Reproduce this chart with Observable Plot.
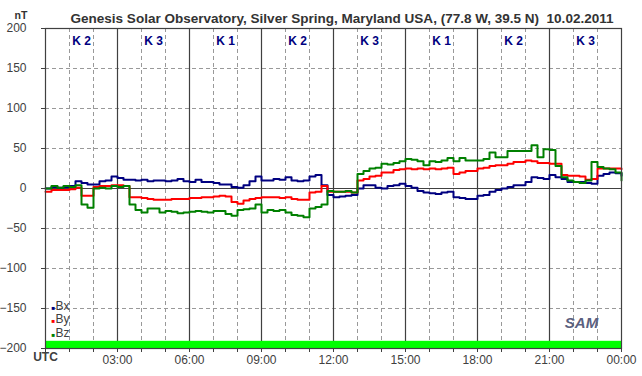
<!DOCTYPE html>
<html><head><meta charset="utf-8">
<script src="https://cdn.jsdelivr.net/npm/d3@7"></script>
<script src="https://cdn.jsdelivr.net/npm/@observablehq/plot@0.6"></script>
<style>body{margin:0;background:#fff;} #chart svg{display:block;}</style>
</head><body><div id="chart"></div>
<script>
// 15-minute samples, UTC hours 0..24
const hours = d3.range(0, 24.001, 0.25);
const bx = [0,2,1,2,3,9,7,5,5,9,10,15,13,11,11,10,11,9,10,10,9,10,12,9,
  8,11,8,8,7,5,5,2,1,4,9,15,10,10,12,11,14,10,9,10,15,17,4,-8,
  -11,-10,-9,-8,0,4,4,1,0,3,4,6,3,1,-3,-5,-6,-7,-5,-4,-11,-12,-13,-13,
  -9,-8,-4,-2,0,2,4,4,8,14,13,12,17,14,12,8,8,8,7,6,16,18,20,19,16];
const by = [-4,-2,-2,-2,-1,1,-9,-9,2,3,3,4,4,3,-11,-11,-12,-13,-14,-14,-14,-13,-13,-13,
  -12,-12,-11,-11,-10,-9,-10,-17,-19,-15,-13,-12,-11,-11,-11,-12,-11,-13,-14,-14,-5,-4,3,-4,
  -4,-4,-4,-5,10,12,15,16,20,20,23,24,25,24,25,24,25,24,25,26,18,20,22,22,
  25,26,28,29,29,31,33,33,35,34,32,32,31,31,17,16,16,15,11,12,25,25,25,25,24];
const bz = [0,3,1,3,2,4,-20,-24,0,1,0,3,2,3,-20,-27,-30,-25,-25,-30,-28,-29,-31,-30,
  -29,-28,-29,-30,-28,-28,-32,-34,-27,-26,-25,-20,-30,-27,-28,-27,-30,-33,-34,-36,-25,-23,-20,-3,
  -4,-4,-3,-5,18,22,25,26,31,30,32,34,37,36,34,29,34,33,35,38,34,38,35,35,
  35,37,45,39,39,47,47,47,47,54,39,49,48,28,14,10,8,7,10,33,27,25,24,20,10];
const seriesNames = ["Bx", "By", "Bz"];
const seriesColors = ["#000080", "#ff0000", "#008000"];
const kLabels = ["K 2", "K 3", "K 1", "K 2", "K 3", "K 1", "K 2", "K 3"];
const kCenters = [1.5, 4.5, 7.5, 10.5, 13.5, 16.5, 19.5, 22.5];
const yTicks = [-200, -150, -100, -50, 0, 50, 100, 150, 200];
const hourTicks = d3.range(0, 25);
const band = {y1: -200, y2: -191};
const title = "Genesis Solar Observatory, Silver Spring, Maryland USA, (77.8 W, 39.5 N)  10.02.2011";

const rows = [];
[bx, by, bz].forEach((arr, s) => arr.forEach((v, i) => rows.push({h: hours[i], v, s: seriesNames[s]})));

const font = "Liberation Sans, Arial, Helvetica, sans-serif";
const gridDash = yTicks.filter(d => d !== 0 && Math.abs(d) !== 200);
const majorX = hourTicks.filter(h => h % 3 === 0 && h > 0 && h < 24);
const minorX = hourTicks.filter(h => h % 3 !== 0);

const chart = Plot.plot({
  width: 642, height: 376,
  marginLeft: 45, marginRight: 21, marginTop: 28, marginBottom: 28,
  style: {fontFamily: font, background: "#fff"},
  x: {domain: [0, 24]},
  y: {domain: [-200, 200]},
  color: {domain: seriesNames, range: seriesColors},
  marks: [
    Plot.ruleY(gridDash, {stroke: "#999", strokeDasharray: "4,3", strokeWidth: 1}),
    Plot.ruleX(minorX, {stroke: "#999", strokeDasharray: "4,3", strokeWidth: 1}),
    Plot.ruleX(majorX, {stroke: "#404040", strokeWidth: 1.2}),
    Plot.rectY([band], {x1: 0, x2: 24, y1: "y1", y2: "y2", fill: "#00ff00"}),
    Plot.ruleY([0], {stroke: "#404040", strokeWidth: 1.2}),
    Plot.line(rows, {x: "h", y: "v", z: "s", stroke: "s", strokeWidth: 2, curve: "step-after"}),
    Plot.frame({stroke: "#404040", strokeWidth: 1.2}),
    Plot.axisY({ticks: yTicks, tickSize: 4, tickPadding: 15, fontSize: 12, fontFamily: font, color: "#404040", label: null}),
    Plot.axisX({ticks: hourTicks, tickSize: 4, tickPadding: 3, fontSize: 12, fontFamily: font, color: "#404040", label: null,
      tickFormat: h => (h % 3 === 0 && h > 0) ? String(h % 24).padStart(2, "0") + ":00" : ""}),
    Plot.text(["UTC"], {x: 0, frameAnchor: "bottom", dy: 12, text: d => d, fontWeight: "bold", fontSize: 12, fontFamily: font, fill: "#404040", textAnchor: "middle"}),
    Plot.text(kCenters, {x: d => d, frameAnchor: "top", dy: 8, text: (d, i) => kLabels[i], fontWeight: "bold", fontSize: 12, fontFamily: font, fill: "#000080"}),
    Plot.text([title], {frameAnchor: "top-left", dx: 25, dy: -14, text: d => d, textAnchor: "start", fontWeight: "bold", fontSize: 12.5, fontFamily: font, fill: "#333"}),
    Plot.text(["nT"], {frameAnchor: "top-left", dx: -31, dy: -17, text: d => d, textAnchor: "start", fontWeight: "bold", fontSize: 10.5, fontFamily: font, fill: "#333"}),
    ...seriesNames.flatMap((s, i) => [
      Plot.text([s], {frameAnchor: "bottom-left", dx: 6, dy: -39 + i * 13.5, text: () => "\u25A0", fontSize: 6, fill: seriesColors[i]}),
      Plot.text([s], {frameAnchor: "bottom-left", dx: 10, dy: -39 + i * 13.5, text: d => d, textAnchor: "start", fontSize: 12, fontFamily: font, fill: "#404040"})
    ]),
    Plot.text(["SAM"], {frameAnchor: "bottom-right", dx: -40, dy: -21, text: d => d, fontStyle: "italic", fontWeight: "bold", fontSize: 15, fontFamily: font, fill: "#5a6080", textAnchor: "middle"})
  ]
});
d3.select(chart).selectAll("text").filter(function() { return this.textContent === title; })
  .attr("textLength", 543).attr("lengthAdjust", "spacingAndGlyphs");
document.getElementById("chart").appendChild(chart);
</script>
</body></html>
